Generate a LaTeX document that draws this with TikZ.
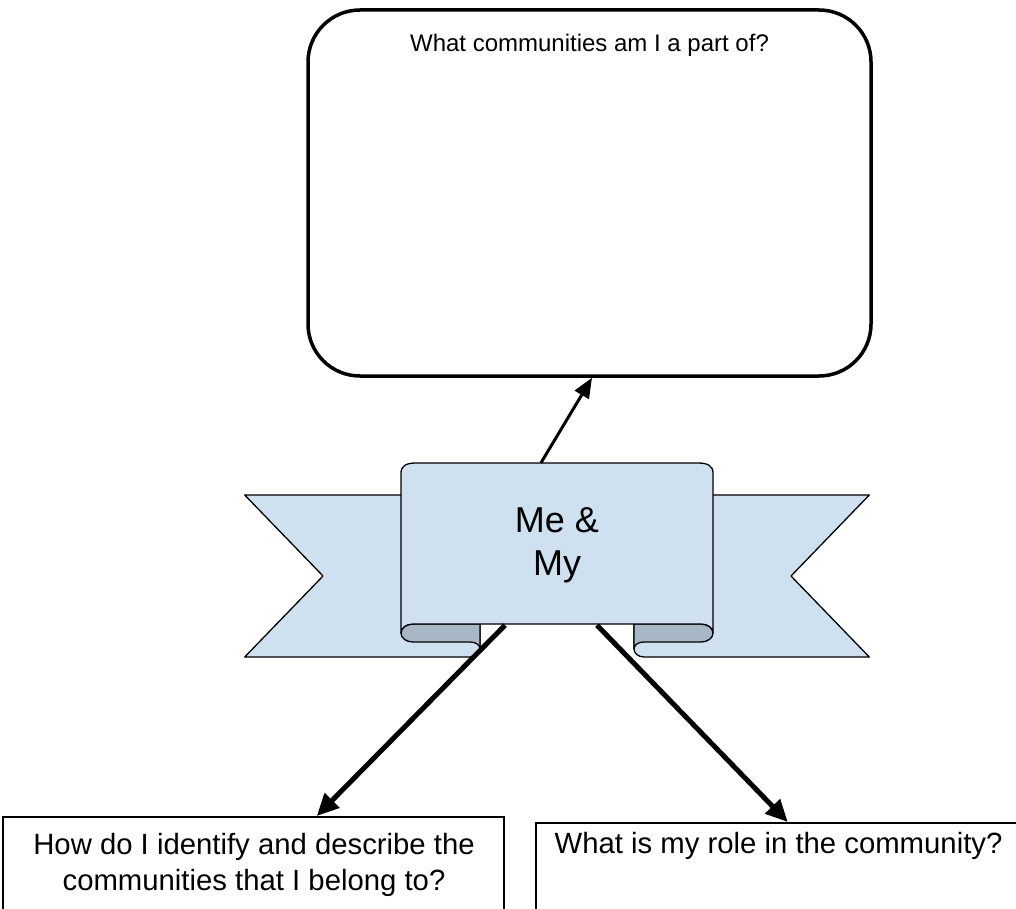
\documentclass[tikz,border=0pt]{standalone}
\usepackage{fontspec}
\setmainfont{Liberation Sans}
\usetikzlibrary{arrows.meta}
\definecolor{ribbonblue}{RGB}{207,224,241}
\definecolor{rollgray}{RGB}{167,183,197}
\tikzset{
  topbox/.style={draw, line width=3.5pt, rounded corners=52pt, inner sep=0pt},
  qbox/.style={draw, line width=1.5pt, inner sep=0pt, anchor=north west},
  ribbonpart/.style={draw, line width=1.3pt, fill=ribbonblue, line join=round},
  rollpart/.style={draw, line width=1.3pt, fill=rollgray, line join=round},
  uparrow/.style={line width=3pt, -{Triangle[length=20pt,width=16pt]}},
  downarrow/.style={line width=5pt, -{Triangle[length=22pt,width=20pt]}},
  qtext/.style={font=\fontsize{29.3}{36}\selectfont},
}
\begin{document}
\begin{tikzpicture}[x=1pt,y=-1pt]
\useasboundingbox (0,0) rectangle (1016,909);
\clip (0,0) rectangle (1016,909);

% top box
\node[topbox, minimum width=563pt, minimum height=366pt] (top) at (589.5,193) {};
\node[anchor=base, font=\fontsize{24}{29}\selectfont] (toptext) at (589.5,52) {What communities am I a part of?};

% ribbon tails
\path[ribbonpart] (480,495) -- (244.7,495) -- (323,576) -- (244.7,657) -- (470,657)
  .. controls (476,657) and (480,653) .. (480,649) -- cycle;
\path[ribbonpart] (634,495) -- (869.3,495) -- (791,576) -- (869.3,657) -- (644,657)
  .. controls (638,657) and (634,653) .. (634,649) -- cycle;
% rolls
\path[rollpart] (480,624) -- (413,624) .. controls (406,624) and (401,628) .. (401,633)
  .. controls (401,638) and (406,642) .. (413,642) -- (470,642)
  .. controls (476,642) and (480,645) .. (480,649) -- cycle;
\path[rollpart] (634,624) -- (701,624) .. controls (708,624) and (713,628) .. (713,633)
  .. controls (713,638) and (708,642) .. (701,642) -- (644,642)
  .. controls (638,642) and (634,645) .. (634,649) -- cycle;
% front panel
\path[ribbonpart] (401,633) -- (401,473) .. controls (401,466) and (406,463) .. (416,463)
  -- (698,463) .. controls (708,463) and (713,466) .. (713,473) -- (713,633)
  .. controls (713,628) and (708,624) .. (701,624) -- (413,624)
  .. controls (406,624) and (401,628) .. (401,633) -- cycle;
\node[minimum width=312pt, minimum height=162pt, inner sep=0pt] (banner) at (557,544) {};
\node[anchor=north, inner sep=0pt, align=center, font=\fontsize{36}{43}\selectfont] (bannertext) at (557,507) {Me \&\\My};

% bottom boxes
\node[qbox, minimum width=501pt, minimum height=150pt] (lbox) at (2,816) {};
\node[qbox, minimum width=490pt, minimum height=150pt] (rbox) at (535,822) {};
\node[qtext, anchor=north, inner sep=0pt, align=center] (ltext) at (254,833) {How do I identify and describe the\\communities that I belong to?};
\node[qtext, anchor=base] (rtext) at (778.5,853) {What is my role in the community?};

% arrows
\draw[uparrow] ([xshift=-16pt]banner.north) -- ([xshift=2.5pt]top.south);
\draw[downarrow] ([xshift=-52pt]banner.south) -- ([xshift=63.5pt]lbox.north);
\draw[downarrow] ([xshift=40pt]banner.south) -- ([xshift=7pt]rbox.north);
\end{tikzpicture}
\end{document}
